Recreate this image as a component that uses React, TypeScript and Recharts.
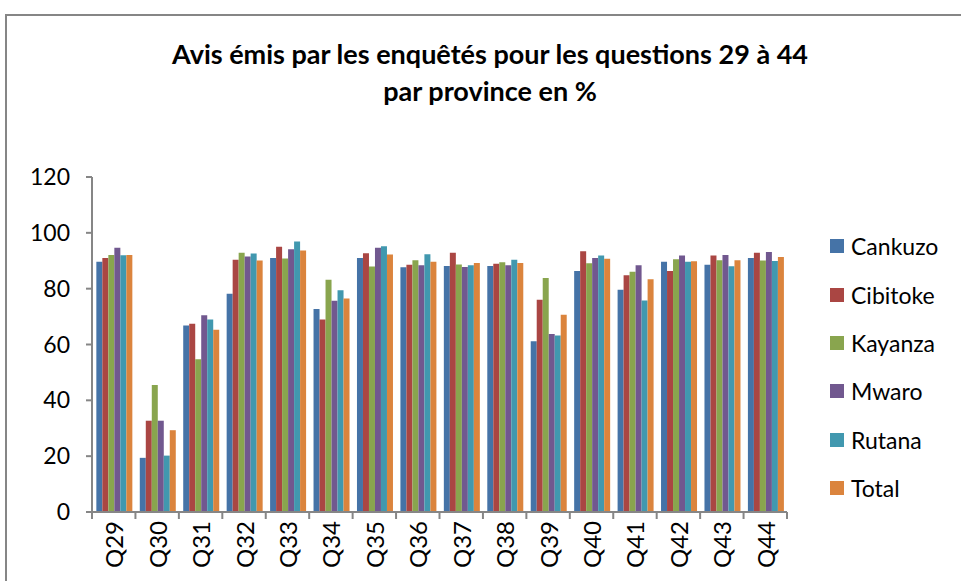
import { BarChart, Bar, XAxis, YAxis } from 'recharts';

const questions = ['Q29', 'Q30', 'Q31', 'Q32', 'Q33', 'Q34', 'Q35', 'Q36', 'Q37', 'Q38', 'Q39', 'Q40', 'Q41', 'Q42', 'Q43', 'Q44'];

const cankuzo = [89.6, 19.4, 66.8, 78.2, 91.0, 72.7, 91.0, 87.7, 88.1, 88.1, 61.2, 86.3, 79.6, 89.6, 88.6, 91.0];
const cibitoke = [91.0, 32.7, 67.4, 90.4, 95.0, 69.0, 92.7, 88.6, 92.9, 88.9, 76.0, 93.4, 84.8, 86.3, 91.9, 92.9];
const kayanza = [92.1, 45.5, 54.7, 92.9, 90.8, 83.2, 87.9, 90.2, 88.7, 89.5, 83.8, 89.1, 86.1, 90.5, 90.2, 90.1];
const mwaro = [94.7, 32.7, 70.5, 91.5, 94.1, 75.7, 94.7, 88.4, 87.8, 88.4, 63.8, 91.0, 88.4, 91.9, 92.1, 93.1];
const rutana = [92.0, 20.2, 69.0, 92.6, 96.9, 79.4, 95.2, 92.3, 88.4, 90.4, 63.2, 91.9, 75.8, 89.6, 88.0, 89.9];
const total = [92.1, 29.3, 65.3, 90.1, 93.7, 76.5, 92.2, 89.6, 89.2, 89.2, 70.7, 90.7, 83.4, 89.8, 90.2, 91.3];

const yTicks = [0, 20, 40, 60, 80, 100, 120];

const SERIES = [
    { key: 'Cankuzo', values: cankuzo, color: '#4573A7' },
    { key: 'Cibitoke', values: cibitoke, color: '#AA4643' },
    { key: 'Kayanza', values: kayanza, color: '#89A54E' },
    { key: 'Mwaro', values: mwaro, color: '#71588F' },
    { key: 'Rutana', values: rutana, color: '#4198AF' },
    { key: 'Total', values: total, color: '#DB843D' },
];

const data = questions.map((q, i) => {
    const row: any = { q };
    SERIES.forEach(s => { row[s.key] = s.values[i]; });
    return row;
});

const FONT = 'Lato, "Open Sans", sans-serif';
const AXIS = '#868686';
const PLOT_LEFT = 92;
const PLOT_RIGHT = 787;
const BAND = (PLOT_RIGHT - PLOT_LEFT) / questions.length;

// category axis tick: boundary marks like Excel + vertical label
function QTick(props: any) {
    const { x, y, payload, index } = props;
    const left = x - BAND / 2;
    return (
        <g>
            <line x1={left} y1={y - 8} x2={left} y2={y - 1} stroke={AXIS} strokeWidth={2} />
            {index === questions.length - 1 && (
                <line x1={x + BAND / 2} y1={y - 8} x2={x + BAND / 2} y2={y - 1} stroke={AXIS} strokeWidth={2} />
            )}
            <text
                x={x}
                y={y + 1}
                transform={`rotate(-90, ${x}, ${y + 1})`}
                textAnchor="end"
                dominantBaseline="central"
                fontSize={24}
                fontFamily={FONT}
                fill="#000"
            >
                {payload.value}
            </text>
        </g>
    );
}

export default function App() {
    return (
        <div style={{ position: 'fixed', left: 0, top: 0, width: 961, height: 581, background: '#fff', overflow: 'hidden', fontFamily: FONT }}>
            {/* chart frame */}
            <div style={{ position: 'absolute', left: 5, top: 14, width: 1000, height: 700, border: `2px solid ${AXIS}` }} />

            <div style={{ position: 'absolute', left: 0, top: 35, width: 980, textAlign: 'center', fontWeight: 700, fontSize: 27, lineHeight: '37px', color: '#000' }}>
                Avis émis par les enquêtés pour les questions 29 à 44<br />par province en %
            </div>

            <div style={{ position: 'absolute', left: 0, top: 0 }}>
                <BarChart
                    width={961}
                    height={581}
                    data={data}
                    margin={{ top: 177, right: 961 - PLOT_RIGHT, bottom: 9, left: PLOT_LEFT - 60 }}
                    barCategoryGap="10%"
                    barGap={0}
                >
                    <YAxis
                        width={60}
                        domain={[0, 120]}
                        ticks={yTicks}
                        interval={0}
                        axisLine={{ stroke: AXIS, strokeWidth: 2 }}
                        tickLine={{ stroke: AXIS, strokeWidth: 2 }}
                        tickSize={6}
                        tickMargin={16}
                        tick={{ fontSize: 23, fill: '#000', fontFamily: FONT }}
                    />
                    <XAxis
                        dataKey="q"
                        height={60}
                        interval={0}
                        axisLine={{ stroke: AXIS, strokeWidth: 2 }}
                        tickLine={false}
                        tick={<QTick />}
                    />
                    {SERIES.map(s => (
                        <Bar key={s.key} dataKey={s.key} fill={s.color} isAnimationActive={false} />
                    ))}
                </BarChart>
            </div>

            {/* legend */}
            <div style={{ position: 'absolute', left: 830, top: 222 }}>
                {SERIES.map(s => (
                    <div key={s.key} style={{ display: 'flex', alignItems: 'center', height: 48.4 }}>
                        <div style={{ width: 14, height: 14, background: s.color, marginRight: 7 }} />
                        <span style={{ fontSize: 23, color: '#000' }}>{s.key}</span>
                    </div>
                ))}
            </div>
        </div>
    );
}
